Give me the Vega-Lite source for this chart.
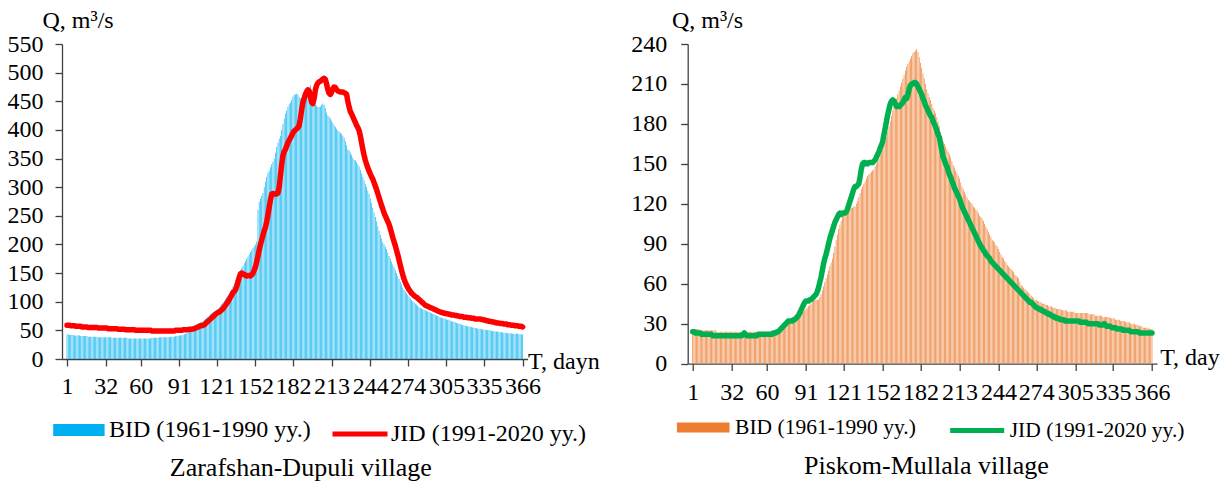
{
"$schema":"https://vega.github.io/schema/vega-lite/v6.json",
"background":"white",
"padding":{"left":7,"top":8,"right":0,"bottom":0},
"spacing":159.7,
"bounds":"flush",
"datasets":{
"zd":[
{"d":1,"b":43,"j":59},{"d":2,"b":43,"j":59},{"d":3,"b":42,"j":59},{"d":4,"b":42,"j":58},{"d":5,"b":42,"j":58},{"d":6,"b":42,"j":58},{"d":7,"b":41,"j":58},{"d":8,"b":41,"j":57},{"d":9,"b":41,"j":57},{"d":10,"b":41,"j":57},
{"d":11,"b":41,"j":57},{"d":12,"b":40,"j":57},{"d":13,"b":40,"j":56},{"d":14,"b":40,"j":56},{"d":15,"b":40,"j":56},{"d":16,"b":40,"j":56},{"d":17,"b":40,"j":56},{"d":18,"b":39,"j":55},{"d":19,"b":39,"j":55},{"d":20,"b":39,"j":55},
{"d":21,"b":39,"j":55},{"d":22,"b":39,"j":55},{"d":23,"b":39,"j":55},{"d":24,"b":39,"j":55},{"d":25,"b":39,"j":55},{"d":26,"b":38,"j":54},{"d":27,"b":38,"j":54},{"d":28,"b":38,"j":54},{"d":29,"b":38,"j":54},{"d":30,"b":38,"j":54},
{"d":31,"b":38,"j":54},{"d":32,"b":38,"j":54},{"d":33,"b":38,"j":54},{"d":34,"b":38,"j":53},{"d":35,"b":38,"j":53},{"d":36,"b":38,"j":53},{"d":37,"b":37,"j":53},{"d":38,"b":37,"j":53},{"d":39,"b":37,"j":53},{"d":40,"b":37,"j":53},
{"d":41,"b":37,"j":53},{"d":42,"b":37,"j":52},{"d":43,"b":37,"j":52},{"d":44,"b":37,"j":52},{"d":45,"b":37,"j":52},{"d":46,"b":37,"j":52},{"d":47,"b":37,"j":52},{"d":48,"b":37,"j":51},{"d":49,"b":37,"j":51},{"d":50,"b":36,"j":51},
{"d":51,"b":36,"j":51},{"d":52,"b":36,"j":51},{"d":53,"b":36,"j":51},{"d":54,"b":36,"j":51},{"d":55,"b":36,"j":51},{"d":56,"b":36,"j":50},{"d":57,"b":36,"j":50},{"d":58,"b":36,"j":50},{"d":59,"b":36,"j":50},{"d":60,"b":36,"j":50},
{"d":61,"b":36,"j":50},{"d":62,"b":36,"j":50},{"d":63,"b":36,"j":50},{"d":64,"b":36,"j":50},{"d":65,"b":36,"j":50},{"d":66,"b":36,"j":50},{"d":67,"b":36,"j":50},{"d":68,"b":36,"j":50},{"d":69,"b":37,"j":49},{"d":70,"b":37,"j":49},
{"d":71,"b":37,"j":49},{"d":72,"b":37,"j":49},{"d":73,"b":37,"j":49},{"d":74,"b":37,"j":49},{"d":75,"b":38,"j":49},{"d":76,"b":38,"j":49},{"d":77,"b":38,"j":49},{"d":78,"b":38,"j":49},{"d":79,"b":38,"j":49},{"d":80,"b":38,"j":49},
{"d":81,"b":38,"j":49},{"d":82,"b":38,"j":49},{"d":83,"b":38,"j":49},{"d":84,"b":39,"j":49},{"d":85,"b":39,"j":49},{"d":86,"b":39,"j":49},{"d":87,"b":39,"j":49},{"d":88,"b":40,"j":50},{"d":89,"b":40,"j":50},{"d":90,"b":40,"j":50},
{"d":91,"b":41,"j":50},{"d":92,"b":41,"j":50},{"d":93,"b":42,"j":50},{"d":94,"b":42,"j":51},{"d":95,"b":43,"j":51},{"d":96,"b":44,"j":51},{"d":97,"b":45,"j":51},{"d":98,"b":46,"j":51},{"d":99,"b":48,"j":52},{"d":100,"b":50,"j":52},
{"d":101,"b":52,"j":52},{"d":102,"b":54,"j":53},{"d":103,"b":56,"j":53},{"d":104,"b":58,"j":54},{"d":105,"b":60,"j":55},{"d":106,"b":62,"j":56},{"d":107,"b":63,"j":57},{"d":108,"b":64,"j":58},{"d":109,"b":65,"j":58},{"d":110,"b":66,"j":59},
{"d":111,"b":68,"j":60},{"d":112,"b":70,"j":62},{"d":113,"b":72,"j":64},{"d":114,"b":74,"j":66},{"d":115,"b":76,"j":68},{"d":116,"b":78,"j":70},{"d":117,"b":80,"j":72},{"d":118,"b":82,"j":74},{"d":119,"b":83,"j":76},{"d":120,"b":84,"j":78},
{"d":121,"b":86,"j":80},{"d":122,"b":88,"j":81},{"d":123,"b":90,"j":82},{"d":124,"b":93,"j":84},{"d":125,"b":96,"j":86},{"d":126,"b":99,"j":88},{"d":127,"b":102,"j":91},{"d":128,"b":105,"j":94},{"d":129,"b":108,"j":97},{"d":130,"b":111,"j":100},
{"d":131,"b":114,"j":104},{"d":132,"b":118,"j":108},{"d":133,"b":122,"j":112},{"d":134,"b":127,"j":116},{"d":135,"b":132,"j":118},{"d":136,"b":137,"j":121},{"d":137,"b":142,"j":127},{"d":138,"b":147,"j":135},{"d":139,"b":151,"j":143},{"d":140,"b":155,"j":149},
{"d":141,"b":159,"j":150},{"d":142,"b":163,"j":148},{"d":143,"b":167,"j":148},{"d":144,"b":171,"j":146},{"d":145,"b":175,"j":145},{"d":146,"b":179,"j":146},{"d":147,"b":183,"j":146},{"d":148,"b":187,"j":145},{"d":149,"b":190,"j":147},{"d":150,"b":194,"j":150},
{"d":151,"b":197,"j":155},{"d":152,"b":200,"j":161},{"d":153,"b":205,"j":170},{"d":154,"b":260,"j":180},{"d":155,"b":275,"j":190},{"d":156,"b":280,"j":200},{"d":157,"b":285,"j":208},{"d":158,"b":290,"j":216},{"d":159,"b":300,"j":224},{"d":160,"b":310,"j":230},
{"d":161,"b":318,"j":240},{"d":162,"b":325,"j":252},{"d":163,"b":329,"j":265},{"d":164,"b":335,"j":278},{"d":165,"b":340,"j":288},{"d":166,"b":345,"j":289},{"d":167,"b":350,"j":288},{"d":168,"b":360,"j":288},{"d":169,"b":370,"j":288},{"d":170,"b":378,"j":290},
{"d":171,"b":385,"j":300},{"d":172,"b":390,"j":320},{"d":173,"b":400,"j":340},{"d":174,"b":410,"j":355},{"d":175,"b":420,"j":362},{"d":176,"b":428,"j":366},{"d":177,"b":434,"j":372},{"d":178,"b":440,"j":378},{"d":179,"b":445,"j":382},{"d":180,"b":448,"j":386},
{"d":181,"b":452,"j":390},{"d":182,"b":458,"j":395},{"d":183,"b":462,"j":398},{"d":184,"b":462,"j":400},{"d":185,"b":463,"j":402},{"d":186,"b":462,"j":404},{"d":187,"b":458,"j":408},{"d":188,"b":455,"j":420},{"d":189,"b":456,"j":435},{"d":190,"b":460,"j":448},
{"d":191,"b":462,"j":455},{"d":192,"b":463,"j":462},{"d":193,"b":466,"j":467},{"d":194,"b":470,"j":470},{"d":195,"b":474,"j":468},{"d":196,"b":478,"j":458},{"d":197,"b":470,"j":448},{"d":198,"b":450,"j":446},{"d":199,"b":446,"j":455},{"d":200,"b":444,"j":470},
{"d":201,"b":442,"j":478},{"d":202,"b":440,"j":482},{"d":203,"b":440,"j":484},{"d":204,"b":441,"j":485},{"d":205,"b":444,"j":487},{"d":206,"b":446,"j":489},{"d":207,"b":444,"j":490},{"d":208,"b":438,"j":488},{"d":209,"b":430,"j":480},{"d":210,"b":425,"j":470},
{"d":211,"b":423,"j":464},{"d":212,"b":420,"j":462},{"d":213,"b":416,"j":466},{"d":214,"b":412,"j":472},{"d":215,"b":408,"j":475},{"d":216,"b":405,"j":474},{"d":217,"b":402,"j":470},{"d":218,"b":399,"j":468},{"d":219,"b":397,"j":467},{"d":220,"b":395,"j":466},
{"d":221,"b":393,"j":466},{"d":222,"b":390,"j":466},{"d":223,"b":386,"j":465},{"d":224,"b":380,"j":464},{"d":225,"b":373,"j":462},{"d":226,"b":366,"j":450},{"d":227,"b":364,"j":440},{"d":228,"b":360,"j":432},{"d":229,"b":356,"j":428},{"d":230,"b":352,"j":423},
{"d":231,"b":348,"j":418},{"d":232,"b":347,"j":413},{"d":233,"b":344,"j":408},{"d":234,"b":340,"j":404},{"d":235,"b":336,"j":399},{"d":236,"b":330,"j":390},{"d":237,"b":324,"j":378},{"d":238,"b":318,"j":366},{"d":239,"b":312,"j":356},{"d":240,"b":305,"j":347},
{"d":241,"b":300,"j":340},{"d":242,"b":294,"j":334},{"d":243,"b":288,"j":328},{"d":244,"b":280,"j":323},{"d":245,"b":272,"j":318},{"d":246,"b":264,"j":314},{"d":247,"b":256,"j":308},{"d":248,"b":248,"j":302},{"d":249,"b":240,"j":296},{"d":250,"b":232,"j":289},
{"d":251,"b":224,"j":282},{"d":252,"b":217,"j":275},{"d":253,"b":210,"j":268},{"d":254,"b":204,"j":262},{"d":255,"b":200,"j":255},{"d":256,"b":196,"j":250},{"d":257,"b":192,"j":245},{"d":258,"b":186,"j":240},{"d":259,"b":180,"j":235},{"d":260,"b":175,"j":228},
{"d":261,"b":170,"j":220},{"d":262,"b":165,"j":212},{"d":263,"b":160,"j":205},{"d":264,"b":155,"j":198},{"d":265,"b":150,"j":190},{"d":266,"b":145,"j":182},{"d":267,"b":140,"j":173},{"d":268,"b":135,"j":164},{"d":269,"b":130,"j":155},{"d":270,"b":125,"j":147},
{"d":271,"b":121,"j":140},{"d":272,"b":118,"j":134},{"d":273,"b":115,"j":129},{"d":274,"b":112,"j":125},{"d":275,"b":109,"j":121},{"d":276,"b":106,"j":118},{"d":277,"b":103,"j":115},{"d":278,"b":101,"j":113},{"d":279,"b":99,"j":111},{"d":280,"b":97,"j":109},
{"d":281,"b":95,"j":108},{"d":282,"b":93,"j":106},{"d":283,"b":91,"j":104},{"d":284,"b":89,"j":102},{"d":285,"b":88,"j":100},{"d":286,"b":87,"j":98},{"d":287,"b":86,"j":96},{"d":288,"b":85,"j":94},{"d":289,"b":84,"j":93},{"d":290,"b":83,"j":92},
{"d":291,"b":82,"j":91},{"d":292,"b":81,"j":90},{"d":293,"b":80,"j":89},{"d":294,"b":79,"j":88},{"d":295,"b":78,"j":87},{"d":296,"b":77,"j":86},{"d":297,"b":76,"j":85},{"d":298,"b":75,"j":84},{"d":299,"b":74,"j":83},{"d":300,"b":73,"j":82},
{"d":301,"b":72,"j":81},{"d":302,"b":71,"j":81},{"d":303,"b":71,"j":80},{"d":304,"b":70,"j":80},{"d":305,"b":69,"j":79},{"d":306,"b":68,"j":79},{"d":307,"b":68,"j":78},{"d":308,"b":67,"j":78},{"d":309,"b":66,"j":77},{"d":310,"b":65,"j":77},
{"d":311,"b":65,"j":77},{"d":312,"b":64,"j":76},{"d":313,"b":63,"j":76},{"d":314,"b":62,"j":75},{"d":315,"b":62,"j":75},{"d":316,"b":61,"j":74},{"d":317,"b":60,"j":74},{"d":318,"b":60,"j":74},{"d":319,"b":59,"j":73},{"d":320,"b":58,"j":73},
{"d":321,"b":58,"j":73},{"d":322,"b":57,"j":72},{"d":323,"b":57,"j":72},{"d":324,"b":56,"j":72},{"d":325,"b":56,"j":71},{"d":326,"b":55,"j":71},{"d":327,"b":55,"j":71},{"d":328,"b":54,"j":70},{"d":329,"b":54,"j":70},{"d":330,"b":53,"j":70},
{"d":331,"b":53,"j":70},{"d":332,"b":53,"j":70},{"d":333,"b":52,"j":69},{"d":334,"b":52,"j":69},{"d":335,"b":51,"j":68},{"d":336,"b":51,"j":68},{"d":337,"b":51,"j":67},{"d":338,"b":50,"j":67},{"d":339,"b":50,"j":66},{"d":340,"b":50,"j":66},
{"d":341,"b":49,"j":65},{"d":342,"b":49,"j":65},{"d":343,"b":49,"j":64},{"d":344,"b":48,"j":64},{"d":345,"b":48,"j":63},{"d":346,"b":48,"j":63},{"d":347,"b":47,"j":63},{"d":348,"b":47,"j":62},{"d":349,"b":47,"j":62},{"d":350,"b":46,"j":62},
{"d":351,"b":46,"j":61},{"d":352,"b":46,"j":61},{"d":353,"b":46,"j":61},{"d":354,"b":45,"j":60},{"d":355,"b":45,"j":60},{"d":356,"b":45,"j":60},{"d":357,"b":45,"j":59},{"d":358,"b":44,"j":59},{"d":359,"b":44,"j":59},{"d":360,"b":44,"j":58},
{"d":361,"b":44,"j":58},{"d":362,"b":44,"j":58},{"d":363,"b":43,"j":57},{"d":364,"b":43,"j":57},{"d":365,"b":43,"j":57},{"d":366,"b":43,"j":56}
],
"pm":[
{"d":1,"b":26,"j":24},{"d":2,"b":26,"j":24},{"d":3,"b":26,"j":23},{"d":4,"b":26,"j":23},{"d":5,"b":26,"j":23},{"d":6,"b":26,"j":23},{"d":7,"b":25,"j":23},{"d":8,"b":25,"j":22},{"d":9,"b":25,"j":22},{"d":10,"b":25,"j":22},
{"d":11,"b":25,"j":22},{"d":12,"b":25,"j":22},{"d":13,"b":25,"j":22},{"d":14,"b":25,"j":22},{"d":15,"b":25,"j":22},{"d":16,"b":25,"j":22},{"d":17,"b":25,"j":21},{"d":18,"b":25,"j":21},{"d":19,"b":25,"j":21},{"d":20,"b":24,"j":21},
{"d":21,"b":24,"j":21},{"d":22,"b":24,"j":21},{"d":23,"b":24,"j":21},{"d":24,"b":24,"j":21},{"d":25,"b":24,"j":21},{"d":26,"b":24,"j":21},{"d":27,"b":24,"j":21},{"d":28,"b":24,"j":21},{"d":29,"b":24,"j":21},{"d":30,"b":24,"j":21},
{"d":31,"b":24,"j":21},{"d":32,"b":24,"j":21},{"d":33,"b":24,"j":21},{"d":34,"b":24,"j":21},{"d":35,"b":24,"j":21},{"d":36,"b":24,"j":21},{"d":37,"b":24,"j":21},{"d":38,"b":24,"j":21},{"d":39,"b":24,"j":21},{"d":40,"b":24,"j":21},
{"d":41,"b":24,"j":22},{"d":42,"b":24,"j":23},{"d":43,"b":24,"j":22},{"d":44,"b":24,"j":21},{"d":45,"b":24,"j":21},{"d":46,"b":24,"j":21},{"d":47,"b":24,"j":21},{"d":48,"b":24,"j":21},{"d":49,"b":24,"j":21},{"d":50,"b":24,"j":21},
{"d":51,"b":24,"j":21},{"d":52,"b":24,"j":21},{"d":53,"b":24,"j":22},{"d":54,"b":24,"j":22},{"d":55,"b":24,"j":22},{"d":56,"b":24,"j":22},{"d":57,"b":24,"j":22},{"d":58,"b":24,"j":22},{"d":59,"b":24,"j":22},{"d":60,"b":24,"j":22},
{"d":61,"b":24,"j":22},{"d":62,"b":24,"j":22},{"d":63,"b":24,"j":22},{"d":64,"b":24,"j":22},{"d":65,"b":25,"j":23},{"d":66,"b":25,"j":23},{"d":67,"b":25,"j":23},{"d":68,"b":26,"j":24},{"d":69,"b":26,"j":24},{"d":70,"b":27,"j":25},
{"d":71,"b":27,"j":26},{"d":72,"b":28,"j":27},{"d":73,"b":28,"j":28},{"d":74,"b":29,"j":29},{"d":75,"b":29,"j":30},{"d":76,"b":30,"j":31},{"d":77,"b":30,"j":32},{"d":78,"b":31,"j":32},{"d":79,"b":31,"j":32},{"d":80,"b":32,"j":32},
{"d":81,"b":32,"j":33},{"d":82,"b":33,"j":33},{"d":83,"b":33,"j":34},{"d":84,"b":34,"j":35},{"d":85,"b":35,"j":36},{"d":86,"b":36,"j":38},{"d":87,"b":37,"j":40},{"d":88,"b":38,"j":42},{"d":89,"b":39,"j":44},{"d":90,"b":40,"j":46},
{"d":91,"b":41,"j":47},{"d":92,"b":42,"j":47},{"d":93,"b":43,"j":47},{"d":94,"b":44,"j":48},{"d":95,"b":45,"j":48},{"d":96,"b":46,"j":49},{"d":97,"b":47,"j":50},{"d":98,"b":48,"j":51},{"d":99,"b":48,"j":52},{"d":100,"b":48,"j":54},
{"d":101,"b":48,"j":57},{"d":102,"b":50,"j":61},{"d":103,"b":52,"j":65},{"d":104,"b":55,"j":70},{"d":105,"b":58,"j":75},{"d":106,"b":61,"j":79},{"d":107,"b":64,"j":82},{"d":108,"b":67,"j":86},{"d":109,"b":70,"j":90},{"d":110,"b":73,"j":94},
{"d":111,"b":76,"j":97},{"d":112,"b":79,"j":100},{"d":113,"b":83,"j":103},{"d":114,"b":88,"j":106},{"d":115,"b":93,"j":108},{"d":116,"b":97,"j":110},{"d":117,"b":101,"j":112},{"d":118,"b":104,"j":113},{"d":119,"b":107,"j":112},{"d":120,"b":110,"j":113},
{"d":121,"b":112,"j":113},{"d":122,"b":113,"j":113},{"d":123,"b":114,"j":114},{"d":124,"b":115,"j":116},{"d":125,"b":116,"j":119},{"d":126,"b":116,"j":122},{"d":127,"b":117,"j":125},{"d":128,"b":117,"j":128},{"d":129,"b":118,"j":131},{"d":130,"b":118,"j":133},
{"d":131,"b":120,"j":133},{"d":132,"b":122,"j":134},{"d":133,"b":125,"j":135},{"d":134,"b":128,"j":140},{"d":135,"b":131,"j":146},{"d":136,"b":133,"j":150},{"d":137,"b":135,"j":151},{"d":138,"b":137,"j":151},{"d":139,"b":139,"j":150},{"d":140,"b":141,"j":150},
{"d":141,"b":142,"j":151},{"d":142,"b":143,"j":151},{"d":143,"b":144,"j":151},{"d":144,"b":145,"j":151},{"d":145,"b":146,"j":152},{"d":146,"b":148,"j":153},{"d":147,"b":150,"j":155},{"d":148,"b":152,"j":157},{"d":149,"b":154,"j":159},{"d":150,"b":156,"j":162},
{"d":151,"b":158,"j":164},{"d":152,"b":161,"j":167},{"d":153,"b":164,"j":172},{"d":154,"b":167,"j":177},{"d":155,"b":170,"j":182},{"d":156,"b":174,"j":187},{"d":157,"b":178,"j":191},{"d":158,"b":182,"j":195},{"d":159,"b":186,"j":197},{"d":160,"b":190,"j":198},
{"d":161,"b":193,"j":197},{"d":162,"b":196,"j":195},{"d":163,"b":199,"j":193},{"d":164,"b":202,"j":193},{"d":165,"b":205,"j":193},{"d":166,"b":208,"j":194},{"d":167,"b":211,"j":195},{"d":168,"b":214,"j":196},{"d":169,"b":217,"j":198},{"d":170,"b":220,"j":200},
{"d":171,"b":223,"j":199},{"d":172,"b":225,"j":202},{"d":173,"b":227,"j":206},{"d":174,"b":229,"j":209},{"d":175,"b":231,"j":210},{"d":176,"b":233,"j":210},{"d":177,"b":234,"j":211},{"d":178,"b":235,"j":211},{"d":179,"b":236,"j":210},{"d":180,"b":234,"j":208},
{"d":181,"b":230,"j":206},{"d":182,"b":226,"j":204},{"d":183,"b":222,"j":202},{"d":184,"b":218,"j":199},{"d":185,"b":214,"j":197},{"d":186,"b":210,"j":194},{"d":187,"b":206,"j":192},{"d":188,"b":203,"j":190},{"d":189,"b":200,"j":188},{"d":190,"b":198,"j":186},
{"d":191,"b":195,"j":185},{"d":192,"b":192,"j":182},{"d":193,"b":190,"j":180},{"d":194,"b":188,"j":178},{"d":195,"b":185,"j":175},{"d":196,"b":182,"j":172},{"d":197,"b":178,"j":170},{"d":198,"b":174,"j":165},{"d":199,"b":170,"j":160},{"d":200,"b":167,"j":155},
{"d":201,"b":165,"j":153},{"d":202,"b":163,"j":150},{"d":203,"b":161,"j":148},{"d":204,"b":159,"j":145},{"d":205,"b":157,"j":142},{"d":206,"b":155,"j":140},{"d":207,"b":152,"j":137},{"d":208,"b":149,"j":135},{"d":209,"b":147,"j":132},{"d":210,"b":145,"j":130},
{"d":211,"b":143,"j":128},{"d":212,"b":141,"j":126},{"d":213,"b":139,"j":124},{"d":214,"b":136,"j":121},{"d":215,"b":133,"j":118},{"d":216,"b":131,"j":116},{"d":217,"b":129,"j":114},{"d":218,"b":127,"j":112},{"d":219,"b":125,"j":110},{"d":220,"b":123,"j":108},
{"d":221,"b":122,"j":106},{"d":222,"b":121,"j":104},{"d":223,"b":120,"j":102},{"d":224,"b":118,"j":100},{"d":225,"b":117,"j":98},{"d":226,"b":116,"j":96},{"d":227,"b":115,"j":94},{"d":228,"b":113,"j":92},{"d":229,"b":111,"j":90},{"d":230,"b":110,"j":88},
{"d":231,"b":109,"j":87},{"d":232,"b":107,"j":85},{"d":233,"b":105,"j":84},{"d":234,"b":103,"j":82},{"d":235,"b":101,"j":81},{"d":236,"b":99,"j":80},{"d":237,"b":97,"j":79},{"d":238,"b":95,"j":77},{"d":239,"b":93,"j":76},{"d":240,"b":92,"j":75},
{"d":241,"b":91,"j":74},{"d":242,"b":89,"j":73},{"d":243,"b":88,"j":72},{"d":244,"b":86,"j":71},{"d":245,"b":84,"j":70},{"d":246,"b":82,"j":69},{"d":247,"b":80,"j":68},{"d":248,"b":79,"j":67},{"d":249,"b":77,"j":66},{"d":250,"b":76,"j":65},
{"d":251,"b":74,"j":64},{"d":252,"b":73,"j":63},{"d":253,"b":72,"j":62},{"d":254,"b":71,"j":61},{"d":255,"b":70,"j":60},{"d":256,"b":69,"j":59},{"d":257,"b":67,"j":58},{"d":258,"b":66,"j":57},{"d":259,"b":65,"j":56},{"d":260,"b":64,"j":55},
{"d":261,"b":61,"j":54},{"d":262,"b":59,"j":53},{"d":263,"b":58,"j":52},{"d":264,"b":57,"j":51},{"d":265,"b":56,"j":50},{"d":266,"b":55,"j":49},{"d":267,"b":54,"j":48},{"d":268,"b":53,"j":47},{"d":269,"b":52,"j":46},{"d":270,"b":51,"j":46},
{"d":271,"b":50,"j":45},{"d":272,"b":49,"j":44},{"d":273,"b":48,"j":43},{"d":274,"b":48,"j":42},{"d":275,"b":47,"j":42},{"d":276,"b":47,"j":41},{"d":277,"b":46,"j":41},{"d":278,"b":46,"j":40},{"d":279,"b":45,"j":40},{"d":280,"b":45,"j":39},
{"d":281,"b":45,"j":39},{"d":282,"b":44,"j":38},{"d":283,"b":44,"j":38},{"d":284,"b":43,"j":37},{"d":285,"b":43,"j":37},{"d":286,"b":43,"j":36},{"d":287,"b":42,"j":36},{"d":288,"b":42,"j":35},{"d":289,"b":42,"j":35},{"d":290,"b":41,"j":34},
{"d":291,"b":41,"j":34},{"d":292,"b":41,"j":34},{"d":293,"b":41,"j":33},{"d":294,"b":40,"j":33},{"d":295,"b":40,"j":33},{"d":296,"b":40,"j":33},{"d":297,"b":40,"j":32},{"d":298,"b":40,"j":32},{"d":299,"b":39,"j":32},{"d":300,"b":39,"j":32},
{"d":301,"b":39,"j":32},{"d":302,"b":39,"j":32},{"d":303,"b":39,"j":32},{"d":304,"b":39,"j":32},{"d":305,"b":38,"j":32},{"d":306,"b":38,"j":32},{"d":307,"b":38,"j":32},{"d":308,"b":38,"j":32},{"d":309,"b":38,"j":31},{"d":310,"b":38,"j":31},
{"d":311,"b":38,"j":31},{"d":312,"b":38,"j":31},{"d":313,"b":38,"j":31},{"d":314,"b":38,"j":31},{"d":315,"b":38,"j":30},{"d":316,"b":37,"j":30},{"d":317,"b":37,"j":30},{"d":318,"b":37,"j":30},{"d":319,"b":37,"j":30},{"d":320,"b":37,"j":30},
{"d":321,"b":36,"j":30},{"d":322,"b":36,"j":30},{"d":323,"b":36,"j":30},{"d":324,"b":36,"j":29},{"d":325,"b":36,"j":29},{"d":326,"b":36,"j":29},{"d":327,"b":35,"j":29},{"d":328,"b":35,"j":30},{"d":329,"b":35,"j":29},{"d":330,"b":35,"j":28},
{"d":331,"b":35,"j":28},{"d":332,"b":35,"j":28},{"d":333,"b":34,"j":28},{"d":334,"b":34,"j":27},{"d":335,"b":34,"j":27},{"d":336,"b":34,"j":27},{"d":337,"b":33,"j":27},{"d":338,"b":33,"j":26},{"d":339,"b":33,"j":26},{"d":340,"b":33,"j":26},
{"d":341,"b":32,"j":26},{"d":342,"b":32,"j":26},{"d":343,"b":32,"j":25},{"d":344,"b":32,"j":25},{"d":345,"b":31,"j":25},{"d":346,"b":31,"j":25},{"d":347,"b":31,"j":25},{"d":348,"b":31,"j":25},{"d":349,"b":30,"j":24},{"d":350,"b":30,"j":24},
{"d":351,"b":30,"j":24},{"d":352,"b":30,"j":24},{"d":353,"b":29,"j":24},{"d":354,"b":29,"j":24},{"d":355,"b":29,"j":24},{"d":356,"b":28,"j":23},{"d":357,"b":28,"j":23},{"d":358,"b":28,"j":23},{"d":359,"b":27,"j":23},{"d":360,"b":27,"j":23},
{"d":361,"b":27,"j":23},{"d":362,"b":27,"j":23},{"d":363,"b":27,"j":23},{"d":364,"b":26,"j":23},{"d":365,"b":26,"j":23},{"d":366,"b":26,"j":23}
]
},
"resolve":{"scale":{"fill":"independent","stroke":"independent"},"legend":{"fill":"independent","stroke":"independent"}},
"hconcat":[
{
"width":465.6,"height":315,
"data":{"name":"zd"},
"title":{"text":"Zarafshan-Dupuli village","orient":"bottom","offset":9,"dx":6,"font":"Times New Roman"},
"encoding":{"x":{"field":"d","type":"quantitative","scale":{"domain":[1,366],"nice":false,"zero":false},
"axis":{"title":"T, dayn","values":[1,32,60,91,121,152,182,213,244,274,305,335,366],"labelOverlap":false,"labelFlush":false,"labelBound":false,"labelFont":"Times New Roman","titleFont":"Times New Roman","tickSize":7,"labelPadding":20,"labelBaseline":"middle","titleAngle":0,"titleAlign":"left","titleBaseline":"middle","titleX":465.6,"titleY":2.3,"grid":false}}},
"layer":[
{"mark":{"type":"bar","orient":"vertical","size":0.65,"clip":true},
"encoding":{"y":{"field":"b","type":"quantitative","scale":{"domain":[0,550],"nice":false},
"axis":{"title":"Q, m³/s","values":[0,50,100,150,200,250,300,350,400,450,500,550],"labelOverlap":false,"labelBound":false,"labelFlush":false,"labelFont":"Times New Roman","titleFont":"Times New Roman","titleAngle":0,"titleAlign":"left","titleBaseline":"middle","titleX":-20,"titleY":-24,"tickSize":7,"labelPadding":12,"grid":false}},
"fill":{"datum":"BID (1961-1990 yy.)","scale":{"range":["#00B0F0"]},
"legend":{"orient":"none","legendX":-9.1,"legendY":360,"title":null,"labelFont":"Times New Roman","symbolType":"M-1,-0.233H1V0.233H-1Z","symbolSize":2642,"symbolStrokeWidth":0,"labelFontSize":24,"labelOffset":4}}}},
{"mark":{"type":"line","strokeWidth":5.5,"strokeCap":"round","strokeJoin":"round"},
"encoding":{"y":{"field":"j","type":"quantitative","title":"Q, m³/s","axis":{"labelOverlap":false,"values":[0,50,100,150,200,250,300,350,400,450,500,550]}},
"stroke":{"datum":"JID (1991-2020 yy.)","scale":{"range":["#FF0000"]},
"legend":{"orient":"none","legendX":268,"legendY":360,"title":null,"labelFont":"Times New Roman","symbolType":"stroke","symbolSize":3025,"symbolStrokeWidth":5,"labelFontSize":24,"labelOffset":1}}}}
]
},
{
"width":469.3,"height":319.6,
"data":{"name":"pm"},
"title":{"text":"Piskom-Mullala village","orient":"bottom","offset":12,"dx":4,"font":"Times New Roman"},
"encoding":{"x":{"field":"d","type":"quantitative","scale":{"domain":[1,366],"nice":false,"zero":false},
"axis":{"title":"T, day","values":[1,32,60,91,121,152,182,213,244,274,305,335,366],"labelOverlap":false,"labelFlush":false,"labelBound":false,"labelFont":"Times New Roman","titleFont":"Times New Roman","tickSize":7,"labelPadding":21.4,"labelBaseline":"middle","titleAngle":0,"titleAlign":"left","titleBaseline":"middle","titleX":472,"titleY":-6.6,"grid":false}}},
"layer":[
{"mark":{"type":"bar","orient":"vertical","size":0.7,"clip":true},
"encoding":{"y":{"field":"b","type":"quantitative","scale":{"domain":[0,240],"nice":false},
"axis":{"title":"Q, m³/s","values":[0,30,60,90,120,150,180,210,240],"labelOverlap":false,"labelBound":false,"labelFlush":false,"labelFont":"Times New Roman","titleFont":"Times New Roman","titleAngle":0,"titleAlign":"left","titleBaseline":"middle","titleX":-16.3,"titleY":-24,"tickSize":7,"labelPadding":14,"grid":false}},
"fill":{"datum":"BID (1961-1990 yy.)","scale":{"range":["#ED7D31"]},
"legend":{"orient":"none","legendX":-11,"legendY":357,"title":null,"labelFont":"Times New Roman","symbolType":"M-1,-0.19H1V0.19H-1Z","symbolSize":2767,"symbolStrokeWidth":0,"labelFontSize":21.5,"labelOffset":5.4}}}},
{"mark":{"type":"line","strokeWidth":5.5,"strokeCap":"round","strokeJoin":"round"},
"encoding":{"y":{"field":"j","type":"quantitative","title":"Q, m³/s","axis":{"labelOverlap":false,"values":[0,30,60,90,120,150,180,210,240]}},
"stroke":{"datum":"JID (1991-2020 yy.)","scale":{"range":["#00B050"]},
"legend":{"orient":"none","legendX":260,"legendY":357,"title":null,"labelFont":"Times New Roman","symbolType":"stroke","symbolSize":2916,"symbolStrokeWidth":5,"labelFontSize":21.5,"labelOffset":3}}}}
]
}
],
"config":{
"font":"Times New Roman",
"view":{"stroke":null},
"axis":{"labelFontSize":24,"titleFontSize":24,"titleFontWeight":"normal","labelColor":"#000000","titleColor":"#000000","domainColor":"#404040","tickColor":"#404040","domainWidth":1.3,"tickWidth":1.3,"grid":false},
"legend":{"labelFontSize":24,"labelColor":"#000000","labelLimit":400,"padding":0},
"title":{"fontSize":26,"fontWeight":"normal","color":"#000000","anchor":"middle"}
}
}
